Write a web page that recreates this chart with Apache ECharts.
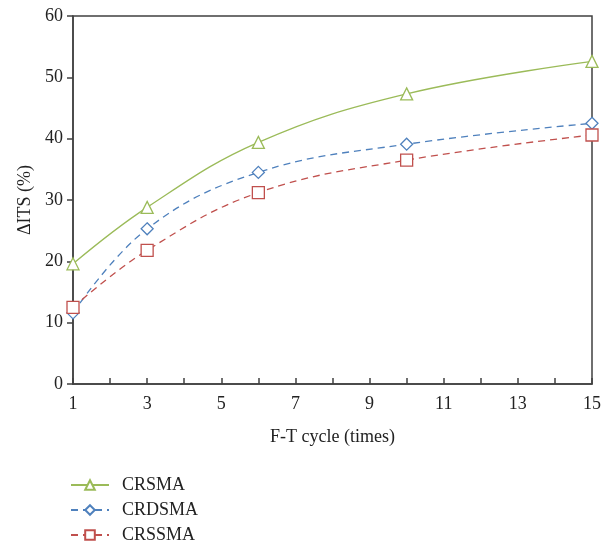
<!DOCTYPE html>
<html>
<head>
<meta charset="utf-8">
<script src="https://cdn.jsdelivr.net/npm/echarts@6/dist/echarts.min.js"></script>
<style>html,body{margin:0;padding:0;background:#fff;}#c{width:605px;height:547px;}</style>
</head>
<body>
<div id="c"></div>
<script>
var cycles = [1, 3, 6, 10, 15];
var crsma = [19.6, 28.8, 39.4, 47.3, 52.6];
var crdsma = [11.6, 25.3, 34.5, 39.1, 42.5];
var crssma = [12.5, 21.8, 31.2, 36.5, 40.6];
var seriesNames = ['CRSMA', 'CRDSMA', 'CRSSMA'];

function pairs(ys) { return cycles.map(function (x, i) { return [x, ys[i]]; }); }

var font = 'Liberation Serif';
var chart = echarts.init(document.getElementById('c'));
chart.setOption({
  animation: false,
  backgroundColor: '#fff',
  grid: { left: 73, right: 13, top: 16, bottom: 163, show: true, borderColor: '#404040', borderWidth: 1.5 },
  legend: {
    orient: 'vertical', left: 70, top: 476, height: 90, itemGap: 7, itemWidth: 38, itemHeight: 12,
    padding: 0,
    textStyle: { fontFamily: font, fontSize: 18, color: '#222', padding: [0, 0, 0, 8] },
    data: seriesNames
  },
  xAxis: {
    type: 'value', min: 1, max: 15, interval: 1,
    name: 'F-T cycle (times)', nameLocation: 'middle', nameGap: 44,
    nameTextStyle: { fontFamily: font, fontSize: 18, color: '#222' },
    axisLine: { lineStyle: { color: '#404040', width: 1.5 } },
    axisTick: { inside: true, length: 6, lineStyle: { color: '#404040', width: 1.5 } },
    axisLabel: { fontFamily: font, fontSize: 18, color: '#222', margin: 11,
      formatter: function (v) { return (v % 2 === 1) ? String(v) : ''; } },
    splitLine: { show: false }
  },
  yAxis: {
    type: 'value', min: 0, max: 60, interval: 10,
    name: 'ΔITS (%)', nameLocation: 'middle', nameGap: 38,
    nameTextStyle: { fontFamily: font, fontSize: 18, color: '#222' },
    axisLine: { show: true, lineStyle: { color: '#404040', width: 1.5 } },
    axisTick: { show: true, length: 6, lineStyle: { color: '#404040', width: 1.5 } },
    axisLabel: { fontFamily: font, fontSize: 18, color: '#222', margin: 10 },
    splitLine: { show: false }
  },
  series: [
    { name: 'CRSMA', type: 'line', data: pairs(crsma), smooth: 0.4, symbol: 'triangle', symbolSize: 12,
      color: '#9BBB59', lineStyle: { width: 1.3, color: '#9BBB59' },
      itemStyle: { color: '#fff', borderColor: '#9BBB59', borderWidth: 1.3 } },
    { name: 'CRDSMA', type: 'line', data: pairs(crdsma), smooth: 0.4, symbol: 'diamond', symbolSize: 12,
      color: '#4F81BD', lineStyle: { width: 1.3, type: [7, 5], color: '#4F81BD' },
      itemStyle: { color: '#fff', borderColor: '#4F81BD', borderWidth: 1.3 } },
    { name: 'CRSSMA', type: 'line', data: pairs(crssma), smooth: 0.4, symbol: 'rect', symbolSize: 12,
      color: '#C0504D', lineStyle: { width: 1.3, type: [7, 5], color: '#C0504D' },
      itemStyle: { color: '#fff', borderColor: '#C0504D', borderWidth: 1.3 } }
  ]
});
</script>
</body>
</html>
